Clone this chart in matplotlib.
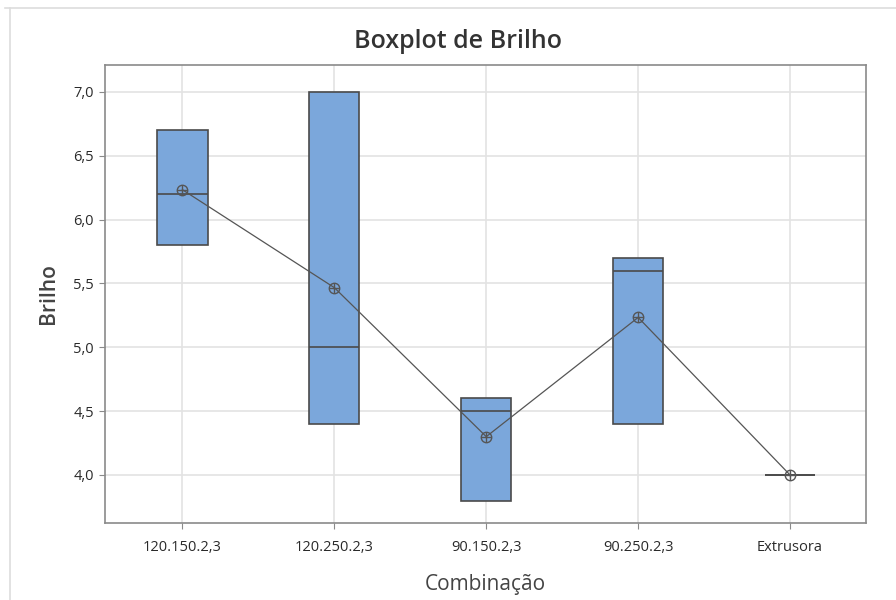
import matplotlib
matplotlib.use("Agg")
import matplotlib.pyplot as plt
import numpy as np
from matplotlib.lines import Line2D

plt.rcParams["font.family"] = ["Open Sans", "DejaVu Sans"]

categories = ["120.150.2,3", "120.250.2,3", "90.150.2,3", "90.250.2,3", "Extrusora"]
brilho = [
    [5.8, 6.2, 6.7],
    [4.4, 5.0, 7.0],
    [3.8, 4.5, 4.6],
    [4.4, 5.6, 5.7],
    [4.0, 4.0, 4.0],
]
yticks = [4.0, 4.5, 5.0, 5.5, 6.0, 6.5, 7.0]


def minitab_quartile(v, p):
    # Minitab style: position p*(n+1)
    v = np.sort(v)
    n = len(v)
    pos = p * (n + 1)
    pos = min(max(pos, 1), n)
    lo = int(np.floor(pos))
    frac = pos - lo
    if lo >= n:
        return v[-1]
    return v[lo - 1] + frac * (v[lo] - v[lo - 1])


stats = []
for vals in brilho:
    q1 = minitab_quartile(vals, 0.25)
    q3 = minitab_quartile(vals, 0.75)
    stats.append({
        "med": float(np.median(vals)),
        "q1": q1,
        "q3": q3,
        "whislo": q1,
        "whishi": q3,
        "mean": float(np.mean(vals)),
        "fliers": [],
    })

fig = plt.figure(figsize=(8.96, 6.0), dpi=100)
ax = fig.add_axes([105 / 896, 1 - 523 / 600, (866 - 105) / 896, (523 - 65) / 600])

pos = np.arange(len(categories))
edge = "#4a4a4a"
ax.bxp(
    stats, positions=pos, widths=0.33, patch_artist=True, showcaps=False,
    boxprops=dict(facecolor="#7ba7db", edgecolor=edge, linewidth=1.2),
    medianprops=dict(color=edge, linewidth=1.2),
    whiskerprops=dict(color=edge, linewidth=1.0),
    zorder=3,
)

means = [s["mean"] for s in stats]
ax.plot(pos, means, color="#555555", linewidth=0.9, zorder=4)
ax.plot(pos, means, linestyle="none", marker="o", markersize=7.5,
        markerfacecolor="none", markeredgecolor="#555555", markeredgewidth=1.0, zorder=5)
ax.plot(pos, means, linestyle="none", marker="+", markersize=7.5,
        markeredgecolor="#555555", markeredgewidth=1.0, zorder=5)

ax.set_xlim(-0.51, 4.5)
ax.set_ylim(3.624, 7.21)
ax.set_yticks(yticks)
ax.set_yticklabels([f"{t:.1f}".replace(".", ",") for t in yticks])
ax.set_xticks(pos)
ax.set_xticklabels(categories)
ax.grid(True, color="#e3e3e3", linewidth=1.2, zorder=0)
ax.set_axisbelow(True)
for sp in ax.spines.values():
    sp.set_color("#8a8a8a")
    sp.set_linewidth(1.2)
ax.tick_params(axis="both", colors="#8a8a8a", length=4, labelsize=10.5,
               labelcolor="#2a2a2a")
ax.tick_params(axis="y", pad=4)
ax.tick_params(axis="x", pad=8)

ax.set_ylabel("Brilho", fontsize=15, color="#444444", fontweight="semibold", labelpad=10)
ax.set_xlabel("Combinação", fontsize=15, color="#444444", labelpad=14)
fig.text(458 / 896, 1 - 42 / 600, "Boxplot de Brilho", ha="center", va="center",
         fontsize=18, color="#333333", fontweight="semibold")

# screenshot border
fig.add_artist(Line2D([5 / 896, 1], [1 - 8 / 600, 1 - 8 / 600], color="#dddddd", linewidth=1.2))
fig.add_artist(Line2D([10 / 896, 10 / 896], [0, 1 - 8 / 600], color="#dddddd", linewidth=1.2))

fig.savefig("out.png", dpi=100)
